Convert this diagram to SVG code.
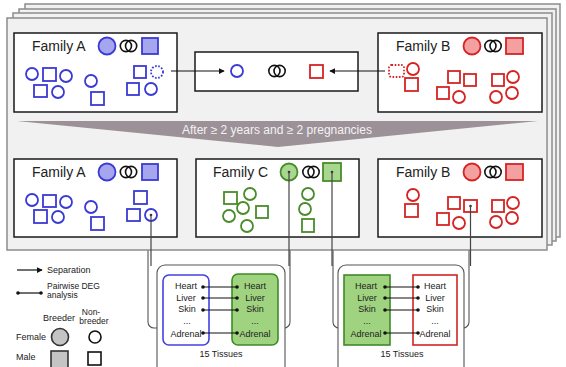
<svg xmlns="http://www.w3.org/2000/svg" width="566" height="367" viewBox="0 0 566 367">
  <defs>
    <marker id="arrow" viewBox="0 0 8 8" refX="7" refY="4" markerWidth="6" markerHeight="6" orient="auto" markerUnits="userSpaceOnUse">
      <path d="M0,0 L8,4 L0,8 z" fill="#111"/>
    </marker>
    <marker id="dot" viewBox="0 0 4 4" refX="2" refY="2" markerWidth="4" markerHeight="4" markerUnits="userSpaceOnUse">
      <circle cx="2" cy="2" r="1.8" fill="#111"/>
    </marker>
    <g id="rings">
      <circle cx="-2.6" cy="0" r="5.6" fill="none" stroke="#111" stroke-width="1.6"/>
      <circle cx="2.6" cy="0" r="5.6" fill="none" stroke="#111" stroke-width="1.6"/>
    </g>
  </defs>
  <style>
    .card { fill: #f1f1f1; stroke: #8c8c8c; stroke-width: 1.5; }
    .panel { fill: #ffffff; stroke: #1a1a1a; stroke-width: 1.5; }
    .title { font-family: "Liberation Sans", Arial, sans-serif; font-size: 14px; fill: #222; }
    .small { font-family: "Liberation Sans", Arial, sans-serif; font-size: 9px; fill: #222; }
    .tight { font-family: "Liberation Sans", Arial, sans-serif; font-size: 8.5px; fill: #222; }
    .tis { font-family: "Liberation Sans", Arial, sans-serif; font-size: 9px; fill: #222; text-anchor: middle; }
    .banner-text { font-family: "Liberation Sans", Arial, sans-serif; font-size: 12px; fill: #f4f2f4; text-anchor: middle; }
    .b { fill: none; stroke: #3a3ad4; stroke-width: 1.8; }
    .bf { fill: #a6a6ee; stroke: #3a3ad4; stroke-width: 1.8; }
    .r { fill: none; stroke: #d42424; stroke-width: 1.8; }
    .rf { fill: #f5a0a0; stroke: #d42424; stroke-width: 1.8; }
    .g { fill: none; stroke: #4a8c2a; stroke-width: 1.8; }
    .gf { fill: #a8d890; stroke: #4a8c2a; stroke-width: 1.8; }
    .dots { stroke-dasharray: 1.6 1.6; }
    .link { fill: none; stroke: #111; stroke-width: 1.2; }
    .drop { fill: none; stroke: #444; stroke-width: 1.2; }
    .frame { fill: #ffffff; stroke: #555; stroke-width: 1.1; }
  </style>

  <!-- backing tabs of the tissue panels, tucked under the cards -->
  <g id="tissue-tabs">
    <rect class="frame" x="148" y="230" width="142" height="98" rx="6"/>
    <rect class="frame" x="333" y="230" width="136" height="98" rx="6"/>
  </g>

  <!-- stacked cohort cards -->
  <g id="stack">
    <rect class="card" x="25" y="4" width="535" height="233"/>
    <rect class="card" x="19" y="9" width="537" height="232"/>
    <rect class="card" x="13" y="13" width="539" height="232"/>
    <rect class="card" x="7" y="18" width="540" height="232"/>
  </g>

  <!-- top row: Family A -->
  <g id="familyA-top">
    <rect class="panel" x="14" y="33" width="163" height="79"/>
    <text class="title" x="32" y="51">Family A</text>
    <circle class="bf" cx="107" cy="46" r="8.5"/>
    <use href="#rings" x="128.5" y="46"/>
    <rect class="bf" x="142" y="38" width="16" height="16"/>
    <circle class="b" cx="32" cy="74" r="6"/>
    <rect class="b" x="43" y="68" width="13" height="13"/>
    <circle class="b" cx="66" cy="76" r="6"/>
    <rect class="b" x="34" y="85" width="13" height="12"/>
    <circle class="b" cx="58" cy="92" r="6"/>
    <circle class="b" cx="91" cy="81" r="6"/>
    <rect class="b" x="91" y="92" width="13" height="13"/>
    <rect class="b" x="134" y="66" width="12" height="12"/>
    <circle class="b dots" cx="157" cy="72" r="6"/>
    <rect class="b" x="127" y="83" width="12" height="12"/>
    <circle class="b" cx="151" cy="89" r="6"/>
  </g>

  <!-- top row: separated pair -->
  <g id="pair-top">
    <rect class="panel" x="195" y="52" width="163" height="39"/>
    <circle class="b" cx="237" cy="71" r="6"/>
    <use href="#rings" x="277" y="71"/>
    <rect class="r" x="310" y="65" width="13" height="13"/>
  </g>

  <!-- top row: Family B -->
  <g id="familyB-top">
    <rect class="panel" x="378" y="33" width="164" height="79"/>
    <text class="title" x="396" y="51">Family B</text>
    <circle class="rf" cx="472" cy="46" r="8.5"/>
    <use href="#rings" x="493" y="46"/>
    <rect class="rf" x="506" y="38" width="17" height="16"/>
    <rect class="r dots" x="389" y="65" width="15" height="12" rx="2.5"/>
    <circle class="r" cx="413" cy="69" r="6"/>
    <rect class="r" x="405" y="78" width="13" height="13"/>
    <rect class="r" x="448" y="71" width="12" height="12"/>
    <rect class="r" x="464" y="74" width="12" height="12"/>
    <rect class="r" x="437" y="87" width="12" height="12"/>
    <circle class="r" cx="459" cy="97" r="6"/>
    <rect class="r" x="492" y="74" width="12" height="12"/>
    <circle class="r" cx="513" cy="77" r="6"/>
    <circle class="r" cx="496" cy="97" r="6"/>
    <circle class="r" cx="512" cy="93" r="6"/>
  </g>

  <!-- time banner -->
  <g id="banner">
    <polygon points="17,121 538,121 278,147" fill="#9b9197"/>
    <text class="banner-text" x="277" y="134">After ≥ 2 years and ≥ 2 pregnancies</text>
  </g>

  <!-- bottom row: Family A -->
  <g id="familyA-bottom">
    <rect class="panel" x="14" y="159" width="163" height="78"/>
    <text class="title" x="32" y="177">Family A</text>
    <circle class="bf" cx="107" cy="172" r="8.5"/>
    <use href="#rings" x="128.5" y="172"/>
    <rect class="bf" x="142" y="164" width="16" height="16"/>
    <circle class="b" cx="32" cy="200" r="6"/>
    <rect class="b" x="43" y="195" width="13" height="12"/>
    <circle class="b" cx="66" cy="202" r="6"/>
    <rect class="b" x="34" y="210" width="13" height="13"/>
    <circle class="b" cx="58" cy="217" r="6"/>
    <circle class="b" cx="91" cy="207" r="6"/>
    <rect class="b" x="91" y="217" width="13" height="13"/>
    <rect class="b" x="134" y="191" width="13" height="13"/>
    <rect class="b" x="127" y="209" width="13" height="12"/>
    <circle class="b" cx="151" cy="215" r="6"/>
    <circle cx="151" cy="215" r="1.3" fill="#333"/>
  </g>

  <!-- bottom row: Family C -->
  <g id="familyC">
    <rect class="panel" x="196" y="159" width="163" height="78"/>
    <text class="title" x="213" y="177">Family C</text>
    <circle class="gf" cx="289" cy="172" r="8.5"/>
    <circle cx="289" cy="172" r="1.3" fill="#333"/>
    <use href="#rings" x="311" y="172"/>
    <rect class="gf" x="323" y="163" width="18" height="18"/>
    <circle cx="332" cy="172" r="1.3" fill="#333"/>
    <rect class="g" x="224" y="192" width="13" height="12"/>
    <circle class="g" cx="250" cy="194" r="6"/>
    <circle class="g" cx="243" cy="208" r="6"/>
    <circle class="g" cx="229" cy="216" r="6"/>
    <rect class="g" x="256" y="206" width="12" height="12"/>
    <circle class="g" cx="247" cy="226" r="6"/>
    <circle class="g" cx="308" cy="194" r="6"/>
    <circle class="g" cx="305" cy="209" r="6"/>
    <rect class="g" x="302" y="219" width="12" height="13"/>
  </g>

  <!-- bottom row: Family B -->
  <g id="familyB-bottom">
    <rect class="panel" x="378" y="159" width="164" height="78"/>
    <text class="title" x="396" y="177">Family B</text>
    <circle class="rf" cx="472" cy="172" r="8.5"/>
    <use href="#rings" x="493" y="172"/>
    <rect class="rf" x="506" y="164" width="17" height="16"/>
    <circle class="r" cx="413" cy="195" r="6"/>
    <rect class="r" x="405" y="204" width="13" height="13"/>
    <rect class="r" x="448" y="197" width="12" height="12"/>
    <rect class="r" x="464" y="200" width="13" height="12"/>
    <circle cx="470.5" cy="206" r="1.3" fill="#333"/>
    <rect class="r" x="437" y="213" width="12" height="12"/>
    <circle class="r" cx="459" cy="223" r="6"/>
    <rect class="r" x="492" y="200" width="12" height="12"/>
    <circle class="r" cx="513" cy="203" r="6"/>
    <circle class="r" cx="496" cy="222" r="6"/>
    <circle class="r" cx="512" cy="218" r="6"/>
  </g>

  <!-- tissue comparison: Family A vs Family C -->
  <g id="tissues-AC">
    <rect class="frame" x="157" y="265" width="128" height="112" rx="8"/>
    <rect x="163" y="275" width="46" height="70" rx="6" fill="#ffffff" stroke="#4242e0" stroke-width="1.6"/>
    <rect x="232" y="274" width="46" height="71" rx="6" fill="#9fd37f" stroke="#3f8a28" stroke-width="1.6"/>
    <text class="tis" x="186" y="289">Heart</text>
    <text class="tis" x="186" y="301">Liver</text>
    <text class="tis" x="187" y="312">Skin</text>
    <text class="tis" x="187" y="324">...</text>
    <text class="tis" x="186" y="337">Adrenal</text>
    <text class="tis" x="255" y="289">Heart</text>
    <text class="tis" x="255" y="301">Liver</text>
    <text class="tis" x="255" y="312">Skin</text>
    <text class="tis" x="255" y="324">...</text>
    <text class="tis" x="255" y="337">Adrenal</text>
    <text class="tis" x="221" y="357">15 Tissues</text>
  </g>

  <!-- tissue comparison: Family C vs Family B -->
  <g id="tissues-CB">
    <rect class="frame" x="338" y="265" width="126" height="112" rx="8"/>
    <rect x="344" y="275" width="46" height="70" fill="#9fd37f" stroke="#3f8a28" stroke-width="1.6"/>
    <rect x="413" y="275" width="44" height="70" fill="#ffffff" stroke="#d42424" stroke-width="1.6"/>
    <text class="tis" x="366" y="289">Heart</text>
    <text class="tis" x="367" y="301">Liver</text>
    <text class="tis" x="367" y="312">Skin</text>
    <text class="tis" x="367" y="324">...</text>
    <text class="tis" x="366" y="337">Adrenal</text>
    <text class="tis" x="435" y="289">Heart</text>
    <text class="tis" x="435" y="301">Liver</text>
    <text class="tis" x="435" y="312">Skin</text>
    <text class="tis" x="435" y="324">...</text>
    <text class="tis" x="435" y="337">Adrenal</text>
    <text class="tis" x="402" y="357">15 Tissues</text>
  </g>

  <!-- connectors -->
  <g id="connectors">
    <line class="link" x1="171" y1="71" x2="224" y2="71" marker-end="url(#arrow)"/>
    <line class="link" x1="385" y1="71" x2="330" y2="71" marker-end="url(#arrow)"/>
    <line class="drop" x1="151" y1="215" x2="151" y2="266"/>
    <line class="drop" x1="289" y1="172" x2="289" y2="266"/>
    <line class="drop" x1="332" y1="172" x2="332" y2="266"/>
    <line class="drop" x1="470.5" y1="206" x2="470.5" y2="266"/>
    <line class="link" x1="203" y1="287" x2="237" y2="287" marker-start="url(#dot)" marker-end="url(#dot)"/>
    <line class="link" x1="203" y1="298" x2="237" y2="298" marker-start="url(#dot)" marker-end="url(#dot)"/>
    <line class="link" x1="203" y1="310" x2="237" y2="310" marker-start="url(#dot)" marker-end="url(#dot)"/>
    <line class="link" x1="203" y1="333" x2="237" y2="333" marker-start="url(#dot)" marker-end="url(#dot)"/>
    <line class="link" x1="385" y1="287" x2="418" y2="287" marker-start="url(#dot)" marker-end="url(#dot)"/>
    <line class="link" x1="385" y1="298" x2="418" y2="298" marker-start="url(#dot)" marker-end="url(#dot)"/>
    <line class="link" x1="385" y1="310" x2="418" y2="310" marker-start="url(#dot)" marker-end="url(#dot)"/>
    <line class="link" x1="385" y1="333" x2="418" y2="333" marker-start="url(#dot)" marker-end="url(#dot)"/>
  </g>

  <!-- legend -->
  <g id="legend">
    <line class="link" x1="17" y1="270" x2="42" y2="270" marker-end="url(#arrow)"/>
    <text class="small" x="47" y="273">Separation</text>
    <line class="link" x1="18" y1="293" x2="41" y2="293" marker-start="url(#dot)" marker-end="url(#dot)"/>
    <text class="tight" x="47" y="289">Pairwise DEG</text>
    <text class="tight" x="47" y="298">analysis</text>
    <text class="small" x="43" y="321">Breeder</text>
    <text class="tight" x="91" y="315" text-anchor="middle">Non-</text>
    <text class="tight" x="94" y="324" text-anchor="middle">breeder</text>
    <text class="small" x="16" y="340">Female</text>
    <circle cx="60" cy="337" r="8.5" fill="#c4c4c4" stroke="#333" stroke-width="1.6"/>
    <circle cx="95" cy="337" r="6" fill="none" stroke="#111" stroke-width="1.6"/>
    <text class="small" x="16" y="360">Male</text>
    <rect x="51" y="351" width="17" height="17" fill="#c4c4c4" stroke="#333" stroke-width="1.6"/>
    <rect x="88" y="352" width="13" height="13" fill="none" stroke="#111" stroke-width="1.6"/>
  </g>
</svg>
